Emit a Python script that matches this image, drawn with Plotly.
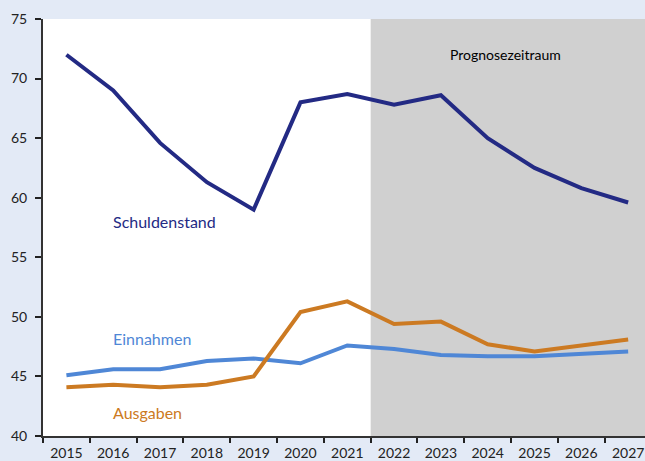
import plotly.graph_objects as go

years = ["2015", "2016", "2017", "2018", "2019", "2020", "2021",
         "2022", "2023", "2024", "2025", "2026", "2027"]
schuldenstand = [72.0, 69.0, 64.6, 61.3, 59.0, 68.0, 68.7, 67.8, 68.6, 65.0, 62.5, 60.8, 59.6]
einnahmen = [45.1, 45.6, 45.6, 46.3, 46.5, 46.1, 47.6, 47.3, 46.8, 46.7, 46.7, 46.9, 47.1]
ausgaben = [44.1, 44.3, 44.1, 44.3, 45.0, 50.4, 51.3, 49.4, 49.6, 47.7, 47.1, 47.6, 48.1]

C_S = "#232a84"
C_E = "#4f87d6"
C_A = "#cc7a22"
FONT = "Lato"

fig = go.Figure()
for name, vals, col in [("Schuldenstand", schuldenstand, C_S),
                        ("Einnahmen", einnahmen, C_E),
                        ("Ausgaben", ausgaben, C_A)]:
    fig.add_trace(go.Scatter(x=years, y=vals, mode="lines", name=name,
                             line=dict(color=col, width=4), showlegend=False))

fig.add_shape(type="rect", xref="x", yref="y", x0=6.5, x1=13, y0=40, y1=75,
              fillcolor="#d0d0d0", line=dict(width=0), layer="below")

fig.add_annotation(x=0.95, y=58.0, text="Schuldenstand", showarrow=False, xanchor="left",
                   font=dict(family=FONT, size=16, color=C_S))
fig.add_annotation(x=0.95, y=48.2, text="Einnahmen", showarrow=False, xanchor="left",
                   font=dict(family=FONT, size=16, color=C_E))
fig.add_annotation(x=0.95, y=42.0, text="Ausgaben", showarrow=False, xanchor="left",
                   font=dict(family=FONT, size=16, color=C_A))
fig.add_annotation(x=9.37, y=72.0, text="Prognosezeitraum", showarrow=False,
                   font=dict(family=FONT, size=14, color="#000000"))

fig.update_layout(
    width=645, height=461,
    margin=dict(l=43, r=0, t=19, b=25, autoexpand=False),
    paper_bgcolor="#e3eaf6",
    plot_bgcolor="#ffffff",
    font=dict(family=FONT, size=14, color="#222222"),
    xaxis=dict(type="category", range=[-0.5, 12.36], tickson="boundaries",
               ticks="outside", ticklen=5, tickcolor="#222222", tickwidth=1.5,
               showline=True, linecolor="#333333", linewidth=2, automargin=False,
               showgrid=False, zeroline=False, fixedrange=True, ticklabelstandoff=3),
    yaxis=dict(range=[40, 75], dtick=5, ticks="outside", ticklen=6,
               tickcolor="#222222", tickwidth=1.5, automargin=False,
               showline=True, linecolor="#333333", linewidth=2,
               showgrid=False, zeroline=False, ticklabelstandoff=5, fixedrange=True),
)

fig.write_html("out.html", config={"displayModeBar": False},
               post_script="document.body.style.margin='0';document.body.style.overflow='hidden';")
